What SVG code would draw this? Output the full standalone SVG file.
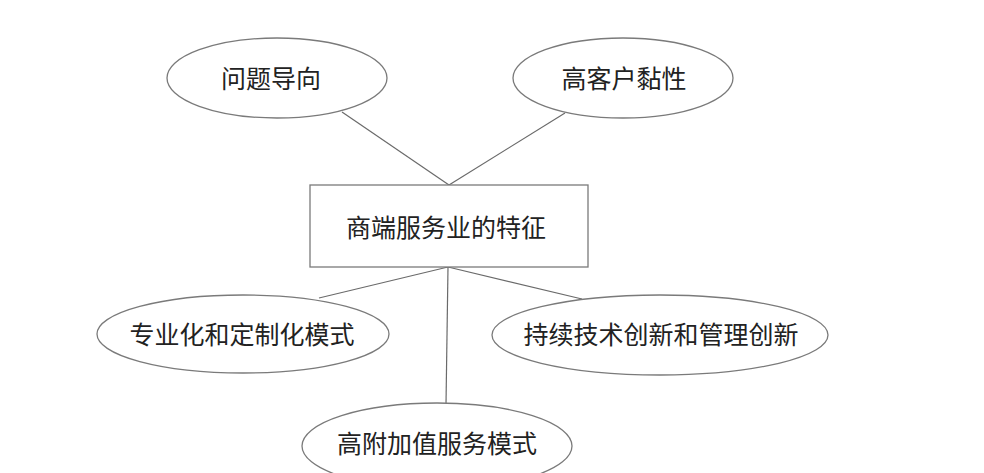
<svg xmlns="http://www.w3.org/2000/svg" width="984" height="473" viewBox="0 0 984 473">
<style>
.shape{fill:#ffffff;stroke:#7a7a7a;stroke-width:1.3}
.edge{stroke:#6a6a6a;stroke-width:1.2;fill:none}
.lbl{font-family:"Noto Sans CJK SC","Noto Sans",sans-serif;font-size:25px;fill:#222222;text-anchor:middle;dominant-baseline:central}
</style>
<rect width="984" height="473" fill="#ffffff"/>
<g id="connectors">
<line class="edge" x1="342" y1="112" x2="449" y2="185"/>
<line class="edge" x1="565" y1="113" x2="449" y2="185"/>
<line class="edge" x1="448" y1="267" x2="319" y2="298"/>
<line class="edge" x1="448" y1="267" x2="582" y2="299"/>
<line class="edge" x1="448" y1="267" x2="446" y2="404"/>
</g>
<g id="node-center">
<rect class="shape" x="310" y="185" width="278" height="82"/>
<text class="lbl" x="446" y="226">商端服务业的特征</text>
</g>
<g id="node-wenti">
<ellipse class="shape" cx="277" cy="78" rx="110" ry="40"/>
<text class="lbl" x="271" y="77">问题导向</text>
</g>
<g id="node-gaokehu">
<ellipse class="shape" cx="623" cy="78" rx="110" ry="40"/>
<text class="lbl" x="624" y="77">高客户黏性</text>
</g>
<g id="node-zhuanye">
<ellipse class="shape" cx="243" cy="334" rx="146" ry="39"/>
<text class="lbl" x="242" y="333">专业化和定制化模式</text>
</g>
<g id="node-chixu">
<ellipse class="shape" cx="660" cy="335" rx="168" ry="40"/>
<text class="lbl" x="661" y="333">持续技术创新和管理创新</text>
</g>
<g id="node-gaofujia">
<ellipse class="shape" cx="437" cy="446" rx="135" ry="43"/>
<text class="lbl" x="437" y="442">高附加值服务模式</text>
</g>
</svg>
